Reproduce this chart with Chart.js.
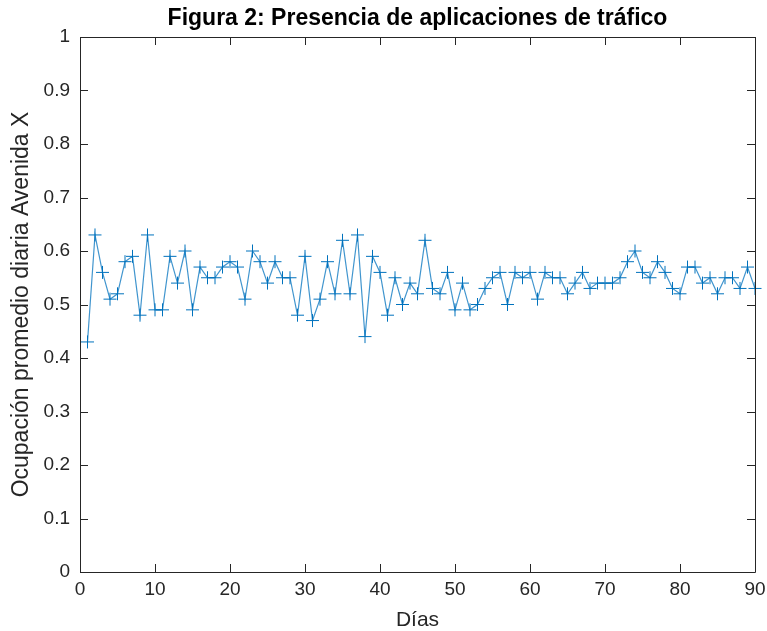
<!DOCTYPE html>
<html>
<head>
<meta charset="utf-8">
<script src="https://cdn.jsdelivr.net/npm/chart.js@4"></script>
<style>
  body { margin: 0; background: #fff; }
</style>
</head>
<body>
<canvas id="myChart" width="767" height="631"></canvas>
<script>
const dias = [];
for (let d = 1; d <= 90; d++) dias.push(d)

const ocupacion = [
  0.43, 0.63, 0.56, 0.51, 0.52, 0.58, 0.59, 0.48, 0.63, 0.49,
  0.49, 0.59, 0.54, 0.60, 0.49, 0.57, 0.55, 0.55, 0.57, 0.58,
  0.57, 0.51, 0.60, 0.58, 0.54, 0.58, 0.55, 0.55, 0.48, 0.59,
  0.47, 0.51, 0.58, 0.52, 0.62, 0.52, 0.63, 0.44, 0.59, 0.56,
  0.48, 0.55, 0.50, 0.54, 0.52, 0.62, 0.53, 0.52, 0.56, 0.49,
  0.54, 0.49, 0.50, 0.53, 0.55, 0.56, 0.50, 0.56, 0.55, 0.56,
  0.51, 0.56, 0.55, 0.55, 0.52, 0.54, 0.56, 0.53, 0.54, 0.54,
  0.54, 0.55, 0.58, 0.60, 0.56, 0.55, 0.58, 0.56, 0.53, 0.52,
  0.57, 0.57, 0.54, 0.55, 0.52, 0.55, 0.55, 0.53, 0.57, 0.53
]

const xTicks = [0, 10, 20, 30, 40, 50, 60, 70, 80, 90]
const yTicks = ['0', '0.1', '0.2', '0.3', '0.4', '0.5', '0.6', '0.7', '0.8', '0.9', '1']

const axisColor = '#262626'
const font = '"Liberation Sans", Arial, Helvetica, sans-serif'

// MATLAB style box with ticks pointing inward on all four sides
const boxTicks = {
  id: 'boxTicks',
  afterDraw(chart) {
    const {ctx, chartArea: a, scales: {x, y}} = chart
    const len = 8
    ctx.save()
    ctx.strokeStyle = axisColor
    ctx.lineWidth = 1
    ctx.beginPath()
    ctx.rect(Math.round(a.left) + 0.5, Math.round(a.top) + 0.5,
      Math.round(a.right - a.left), Math.round(a.bottom - a.top))
    x.ticks.forEach(t => {
      const px = Math.round(x.getPixelForValue(t.value)) + 0.5
      ctx.moveTo(px, a.bottom); ctx.lineTo(px, a.bottom - len)
      ctx.moveTo(px, a.top); ctx.lineTo(px, a.top + len)
    })
    y.ticks.forEach(t => {
      const py = Math.round(y.getPixelForValue(t.value)) + 0.5
      ctx.moveTo(a.left, py); ctx.lineTo(a.left + len, py)
      ctx.moveTo(a.right, py); ctx.lineTo(a.right - len, py)
    })
    ctx.stroke()
    ctx.restore()
  }
}

var ctx = document.getElementById('myChart').getContext('2d');

var myChart = new Chart(ctx, {
  type: 'line',
  data: {
    datasets: [{
      label: 'Ocupación',
      data: dias.map((d, i) => ({x: d, y: ocupacion[i]})),
      borderColor: 'rgba(0, 114, 189, 0.75)',
      borderWidth: 1.2,
      tension: 0,
      fill: false,
      clip: 8,
      pointStyle: 'cross',
      pointRadius: 6.5,
      pointBorderWidth: 1,
      pointBorderColor: '#0072BD',
      pointBackgroundColor: '#0072BD'
    }]
  },
  options: {
    responsive: false,
    animation: false,
    layout: {
      padding: {left: 0, right: 12, top: 0, bottom: 0}
    },
    plugins: {
      legend: {display: false},
      tooltip: {enabled: false},
      title: {
        display: true,
        fullSize: false,
        text: 'Figura 2: Presencia de aplicaciones de tráfico',
        color: '#000',
        font: {family: font, size: 23, weight: 'bold', lineHeight: 1.2},
        padding: {top: 5, bottom: 4.4}
      }
    },
    scales: {
      x: {
        type: 'linear',
        min: 0,
        max: 90,
        afterBuildTicks: s => { s.ticks = xTicks.map(v => ({value: v})) },
        afterFit: s => { s.height = 59; s.paddingLeft = 0; s.paddingRight = 0 },
        grid: {display: false, drawTicks: false},
        border: {display: false},
        ticks: {
          color: axisColor,
          padding: 6,
          maxRotation: 0,
          font: {family: font, size: 19},
          callback: v => String(v)
        },
        title: {
          display: true,
          text: 'Días',
          color: axisColor,
          font: {family: font, size: 21, lineHeight: 1},
          padding: {top: 0, bottom: 0}
        }
      },
      y: {
        min: 0,
        max: 1,
        afterBuildTicks: s => { s.ticks = yTicks.map(v => ({value: parseFloat(v)})) },
        afterFit: s => { s.width = 80 },
        grid: {display: false, drawTicks: false},
        border: {display: false},
        ticks: {
          color: axisColor,
          padding: 10,
          font: {family: font, size: 19},
          callback: (v, i) => yTicks[i]
        },
        title: {
          display: true,
          text: 'Ocupación promedio diaria Avenida X',
          color: axisColor,
          font: {family: font, size: 23, lineHeight: 1},
          padding: {top: 10, bottom: 0}
        }
      }
    }
  },
  plugins: [boxTicks]
});
</script>
</body>
</html>
